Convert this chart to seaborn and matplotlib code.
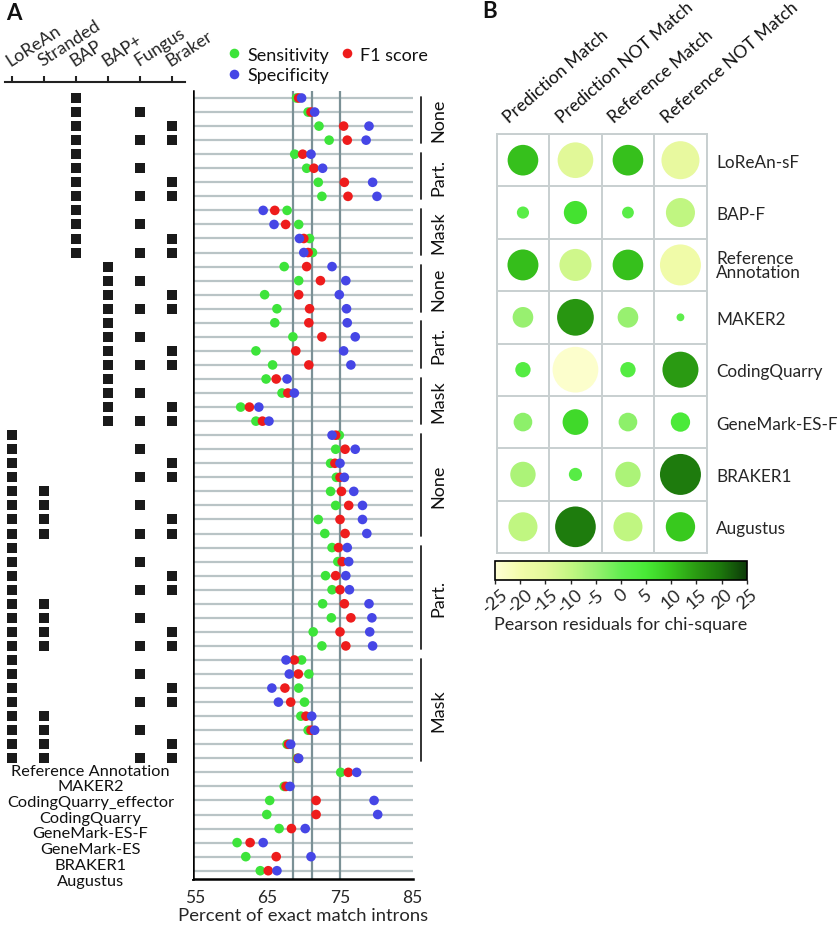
import matplotlib
matplotlib.use('Agg')
import matplotlib.pyplot as plt
import matplotlib.colors as mcolors
import matplotlib.transforms as mtransforms
import numpy as np
import pandas as pd
import seaborn as sns

# ---- panel A: tool combinations (matrix) ----
TOOLS = ['LoReAn', 'Stranded', 'BAP', 'BAP+', 'Fungus', 'Braker']
MODES = ['None', 'Part.', 'Mask']
EXTRAS = [[], ['Fungus'], ['Braker'], ['Fungus', 'Braker']]
REFERENCE_ROWS = ['Reference Annotation', 'MAKER2', 'CodingQuarry_effector', 'CodingQuarry',
                  'GeneMark-ES-F', 'GeneMark-ES', 'BRAKER1', 'Augustus']

# ---- panel A: percent of exact match introns, one value per row (top to bottom) ----
sensitivity = [69.0, 70.6, 72.1, 73.5, 68.75, 70.4, 72.0, 72.5, 67.7, 69.3, 70.8, 71.2,
               67.3, 69.3, 64.6, 66.3, 66.0, 68.5, 63.4, 65.7, 64.8, 67.0, 61.3, 63.4,
               74.9, 74.4, 73.7, 74.5, 73.7, 74.4, 72.0, 72.9,
               73.9, 74.7, 73.0, 73.9, 72.6, 73.8, 71.3, 72.5,
               69.7, 70.7, 69.3, 70.1, 69.6, 70.6, 67.7, 69.1,
               75.1, 67.3, 65.3, 64.9, 66.6, 60.8, 62.0, 64.0]
f1_score = [69.3, 71.0, 75.5, 76.0, 69.85, 71.4, 75.6, 76.1, 66.0, 67.5, 70.0, 70.6,
            70.4, 72.3, 69.3, 70.8, 70.7, 72.5, 68.9, 70.7, 66.2, 67.8, 62.5, 64.3,
            74.4, 75.7, 74.3, 75.0, 75.2, 76.2, 75.0, 75.7,
            74.8, 75.3, 74.4, 75.0, 75.6, 76.5, 75.0, 75.8,
            68.7, 69.25, 67.4, 68.2, 70.3, 71.0, 67.9, 69.2,
            76.15, 67.55, 71.7, 71.7, 68.3, 62.6, 66.2, 65.1]
specificity = [69.7, 71.5, 79.0, 78.6, 71.0, 72.6, 79.5, 80.1, 64.4, 65.9, 69.4, 70.0,
               73.9, 75.8, 74.9, 75.9, 76.0, 77.1, 75.5, 76.5, 67.7, 68.7, 63.8, 65.2,
               73.9, 77.1, 75.0, 75.6, 76.9, 78.1, 78.1, 78.7,
               76.0, 76.2, 75.8, 76.3, 79.0, 79.4, 79.1, 79.5,
               67.55, 68.0, 65.6, 66.5, 71.1, 71.5, 68.2, 69.3,
               77.3, 68.1, 79.7, 80.2, 70.2, 64.4, 71.0, 66.3]
REF_LINES = [68.5, 71.2, 75.0]

# ---- panel B: Pearson residuals ----
B_METHODS = ['LoReAn-sF', 'BAP-F', 'Reference\nAnnotation', 'MAKER2', 'CodingQuarry',
             'GeneMark-ES-F', 'BRAKER1', 'Augustus']
B_CATEGORIES = ['Prediction Match', 'Prediction NOT Match', 'Reference Match', 'Reference NOT Match']
prediction_match = [10.8, 1.7, 11.0, -4.9, 2.7, -4.0, -7.4, -9.7]
prediction_not_match = [-14.6, 6.2, -11.8, 15.5, -24.0, 7.6, 2.0, 19.0]
reference_match = [10.8, 1.6, 10.8, -4.9, 2.7, -4.0, -7.4, -9.7]
reference_not_match = [-16.6, -9.7, -19.3, 0.7, 14.9, 4.3, 19.3, 9.9]

RESID_COLORS = ['#fffed4', '#f2fcaa', '#e4f89a', '#c2f682', '#98f070', '#62ee50',
                '#48ea36', '#38c81e', '#2a9a12', '#1c760c', '#0c3a08']
DOT_COLORS = {'Sensitivity': '#3de43a', 'F1 score': '#ee1c1c', 'Specificity': '#4646e6'}

W, H = 840, 928


def build_configs():
    rows, groups = [], []
    for base in ['BAP', 'BAP+']:
        for mode in MODES:
            start = len(rows)
            for extra in EXTRAS:
                rows.append([base] + extra)
            groups.append((start, len(rows) - 1, mode))
    for mode in MODES:
        start = len(rows)
        for stranded in [[], ['Stranded']]:
            for extra in EXTRAS:
                rows.append(['LoReAn'] + stranded + extra)
        groups.append((start, len(rows) - 1, mode))
    return rows, groups


def main():
    sns.set_style('white')
    plt.rcParams['font.family'] = ['Lato', 'DejaVu Sans']
    plt.rcParams['text.color'] = '#111111'

    fig = plt.figure(figsize=(W / 100, H / 100), dpi=100)
    configs, groups = build_configs()
    n_rows = len(configs) + len(REFERENCE_ROWS)

    # ---------- dot plot ----------
    ax = fig.add_axes([193 / W, 1 - 880 / H, 219.5 / W, (880 - 91.7) / H])
    parts = []
    for name, vals in [('Sensitivity', sensitivity), ('F1 score', f1_score), ('Specificity', specificity)]:
        parts.append(pd.DataFrame({'value': vals, 'row': np.arange(n_rows), 'metric': name}))
    dots = pd.concat(parts, ignore_index=True)
    sns.scatterplot(data=dots, x='value', y='row', hue='metric',
                    hue_order=['Sensitivity', 'Specificity', 'F1 score'],
                    palette=DOT_COLORS, s=48, linewidth=0, zorder=3, ax=ax)
    for v in REF_LINES:
        ax.axvline(v, color='#7b9196', lw=1.6, zorder=2)
    ax.set_xlim(54.72, 85)
    ax.set_ylim(55.59, -0.52)
    ax.set_yticks(range(n_rows))
    ax.set_yticklabels([])
    ax.grid(axis='y', color='#b9c4c6', lw=1.6)
    ax.grid(axis='x', visible=False)
    ax.set_axisbelow(True)
    ax.set_xticks([55, 65, 75, 85])
    ax.tick_params(axis='x', labelsize=12.5, length=4, width=1.6, direction='out', color='black', pad=3)
    ax.tick_params(axis='y', length=4, width=1.6, direction='out', color='black', left=True)
    for side in ['top', 'right']:
        ax.spines[side].set_visible(False)
    for side in ['left', 'bottom']:
        ax.spines[side].set_color('black')
        ax.spines[side].set_linewidth(1.8)
    ax.set_xlabel('Percent of exact match introns', fontsize=13.3, labelpad=2)
    ax.set_ylabel('')
    sns.move_legend(ax, 'upper left', bbox_to_anchor=(0.152, 1.056), ncol=2, frameon=False,
                    title=None, fontsize=13, handlelength=0.8, handletextpad=0.35,
                    columnspacing=0.6, labelspacing=0.25, borderpad=0, borderaxespad=0)

    # group labels on the right
    trans = mtransforms.blended_transform_factory(ax.transAxes, ax.transData)
    for start, end, label in groups:
        ax.plot([1.039, 1.039], [start - 0.1, end + 0.2], transform=trans, clip_on=False,
                color='#222222', lw=1.3)
        ax.text(1.118, (start + end) / 2 + 0.05, label, rotation=90, ha='center', va='center',
                transform=trans, fontsize=13)

    # ---------- tool matrix ----------
    axm = fig.add_axes([0, 1 - 880 / H, 193 / W, (880 - 83) / H])
    mat = pd.DataFrame([(TOOLS.index(t), i) for i, cfg in enumerate(configs) for t in cfg],
                       columns=['col', 'row'])
    sns.scatterplot(data=mat, x='col', y='row', marker='s', s=50, color='#1a1a1a',
                    linewidth=0, ax=axm)
    axm.set_xlim(-0.375, 5.656)
    axm.set_ylim(55.59, -1.14)
    for side in ['left', 'right', 'bottom']:
        axm.spines[side].set_visible(False)
    axm.spines['top'].set_bounds(-0.22, 5.4)
    axm.spines['top'].set_linewidth(1.5)
    axm.spines['top'].set_color('#222222')
    axm.xaxis.tick_top()
    axm.set_xticks(range(len(TOOLS)))
    axm.set_xticklabels(TOOLS, rotation=33, ha='left', rotation_mode='anchor', fontsize=12.8)
    axm.tick_params(axis='x', direction='out', length=4, width=1.5, color='#222222', pad=6)
    axm.set_yticks([])
    axm.set_xlabel('')
    axm.set_ylabel('')
    for k, name in enumerate(REFERENCE_ROWS):
        axm.text(2.45, len(configs) - 0.12 + k * 1.117, name, ha='center', va='center', fontsize=11.8)

    # ---------- panel B ----------
    axb = fig.add_axes([496.7 / W, 1 - 554 / H, 210 / W, 419 / H])
    resid = pd.DataFrame({'method': B_METHODS * 4,
                          'category': np.repeat(B_CATEGORIES, len(B_METHODS)),
                          'value': prediction_match + prediction_not_match + reference_match + reference_not_match})
    resid['cx'] = resid['category'].map({c: i for i, c in enumerate(B_CATEGORIES)})
    resid['ry'] = resid['method'].map({m: i for i, m in enumerate(B_METHODS)})
    resid['size'] = resid['value'].abs()
    cmap = mcolors.LinearSegmentedColormap.from_list('resid', RESID_COLORS)
    sns.scatterplot(data=resid, x='cx', y='ry', hue='value', palette=cmap, hue_norm=(-25, 25),
                    size='size', sizes=(0, 1128), size_norm=(0, 25), linewidth=0,
                    legend=False, zorder=3, ax=axb)
    axb.set_xlim(-0.5, 3.5)
    axb.set_ylim(7.5, -0.5)
    axb.set_xticks(np.arange(-0.5, 4, 1), minor=True)
    axb.set_yticks(np.arange(-0.5, 8, 1), minor=True)
    axb.grid(which='minor', color='#c8cfd0', lw=1.4)
    axb.grid(which='major', visible=False)
    axb.set_xticks([])
    axb.yaxis.tick_right()
    axb.set_yticks(range(len(B_METHODS)))
    labels = axb.set_yticklabels(B_METHODS, fontsize=12.3, ha='left')
    for lab in labels:
        lab.set_linespacing(0.85)
    axb.tick_params(axis='y', which='both', length=0, pad=7)
    axb.tick_params(axis='x', which='both', length=0)
    for sp in axb.spines.values():
        sp.set_color('#c8cfd0')
        sp.set_linewidth(1.4)
    axb.set_xlabel('')
    axb.set_ylabel('')
    for i, cat in enumerate(B_CATEGORIES):
        axb.text(i - 0.22, -0.66, cat, rotation=41, ha='left', va='bottom',
                 rotation_mode='anchor', fontsize=12.6)

    cax = fig.add_axes([495 / W, 1 - 581 / H, 251.7 / W, 19.3 / H])
    sm = plt.cm.ScalarMappable(norm=mcolors.Normalize(-25, 25), cmap=cmap)
    cb = fig.colorbar(sm, cax=cax, orientation='horizontal')
    ticks = list(range(-25, 26, 5))
    cb.set_ticks(ticks)
    cb.set_ticklabels([str(t) for t in ticks])
    cb.outline.set_linewidth(1.2)
    cb.outline.set_edgecolor('black')
    cax.tick_params(axis='x', length=3, width=1, direction='out', labelsize=13, pad=1)
    for lab in cax.get_xticklabels():
        lab.set_rotation(40)
        lab.set_ha('center')
    cb.set_label('Pearson residuals for chi-square', fontsize=13, labelpad=0)

    fig.text(6 / W, 1 - 13 / H, 'A', fontsize=16, weight='bold', va='center', ha='left')
    fig.text(482 / W, 1 - 11 / H, 'B', fontsize=16, weight='bold', va='center', ha='left')

    fig.savefig('out.png', dpi=100)


if __name__ == '__main__':
    main()
